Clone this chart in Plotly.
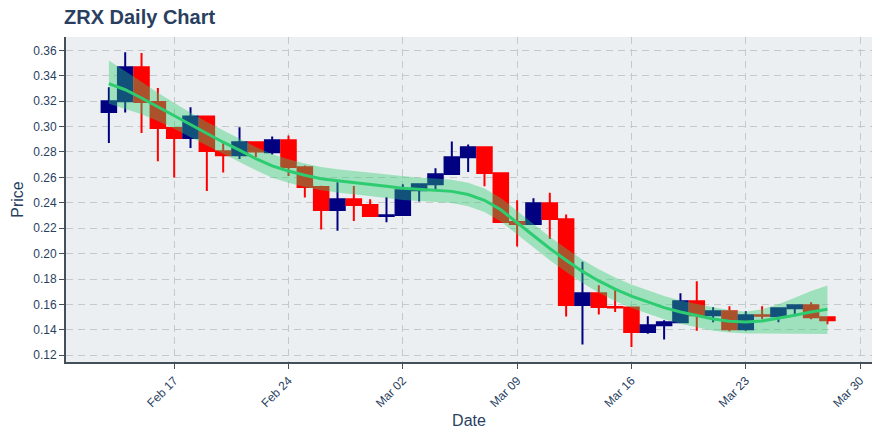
import plotly.graph_objects as go

dates = [
    "2020-02-13", "2020-02-14", "2020-02-15", "2020-02-16", "2020-02-17", "2020-02-18",
    "2020-02-19", "2020-02-20", "2020-02-21", "2020-02-22", "2020-02-23", "2020-02-24",
    "2020-02-25", "2020-02-26", "2020-02-27", "2020-02-28", "2020-02-29", "2020-03-01",
    "2020-03-02", "2020-03-03", "2020-03-04", "2020-03-05", "2020-03-06", "2020-03-07",
    "2020-03-08", "2020-03-09", "2020-03-10", "2020-03-11", "2020-03-12", "2020-03-13",
    "2020-03-14", "2020-03-15", "2020-03-16", "2020-03-17", "2020-03-18", "2020-03-19",
    "2020-03-20", "2020-03-21", "2020-03-22", "2020-03-23", "2020-03-24", "2020-03-25",
    "2020-03-26", "2020-03-27", "2020-03-28",
]

open_ = [
    0.3115, 0.3200, 0.3466, 0.3193, 0.2989, 0.2910, 0.3080, 0.2806, 0.2775, 0.2876,
    0.2797, 0.2892, 0.2680, 0.2525, 0.2344, 0.2428, 0.2383, 0.2296, 0.2304, 0.2498,
    0.2546, 0.2627, 0.2758, 0.2837, 0.2632, 0.2249, 0.2233, 0.2396, 0.2270, 0.1596,
    0.1688, 0.1580, 0.1576, 0.1384, 0.1436, 0.1460, 0.1625, 0.1515, 0.1547, 0.1405,
    0.1515, 0.1507, 0.1570, 0.1594, 0.1499,
]
high = [
    0.3310, 0.3585, 0.3580, 0.3303, 0.2995, 0.3152, 0.3085, 0.2887, 0.2994, 0.2880,
    0.2921, 0.2929, 0.2694, 0.2535, 0.2561, 0.2532, 0.2428, 0.2443, 0.2546, 0.2550,
    0.2672, 0.2882, 0.2858, 0.2845, 0.2635, 0.2420, 0.2436, 0.2480, 0.2307, 0.1937,
    0.1751, 0.1720, 0.1580, 0.1507, 0.1476, 0.1688, 0.1783, 0.1578, 0.1586, 0.1547,
    0.1586, 0.1570, 0.1594, 0.1617, 0.1500,
]
low = [
    0.2870, 0.3110, 0.2950, 0.2727, 0.2600, 0.2831, 0.2493, 0.2638, 0.2745, 0.2760,
    0.2780, 0.2611, 0.2441, 0.2189, 0.2181, 0.2257, 0.2290, 0.2247, 0.2300, 0.2410,
    0.2493, 0.2625, 0.2643, 0.2530, 0.2245, 0.2056, 0.2228, 0.2116, 0.1505, 0.1284,
    0.1520, 0.1541, 0.1266, 0.1370, 0.1324, 0.1458, 0.1392, 0.1460, 0.1390, 0.1392,
    0.1484, 0.1460, 0.1507, 0.1484, 0.1444,
]
close = [
    0.3200, 0.3466, 0.3193, 0.2989, 0.2910, 0.3080, 0.2808, 0.2775, 0.2876, 0.2803,
    0.2892, 0.2682, 0.2525, 0.2344, 0.2428, 0.2383, 0.2296, 0.2303, 0.2498, 0.2546,
    0.2624, 0.2758, 0.2837, 0.2635, 0.2249, 0.2233, 0.2396, 0.2273, 0.1596, 0.1688,
    0.1580, 0.1576, 0.1384, 0.1436, 0.1460, 0.1625, 0.1515, 0.1547, 0.1405, 0.1515,
    0.1511, 0.1570, 0.1594, 0.1499, 0.1476,
]

trend = [
    0.3338, 0.3290, 0.3225, 0.3155, 0.3085, 0.3012, 0.2943, 0.2877, 0.2815, 0.2748,
    0.2690, 0.2650, 0.2617, 0.2590, 0.2573, 0.2560, 0.2545, 0.2530, 0.2515, 0.2505,
    0.2500, 0.2490, 0.2465, 0.2420, 0.2345, 0.2245, 0.2140, 0.2040, 0.1948, 0.1860,
    0.1785, 0.1720, 0.1665, 0.1618, 0.1575, 0.1540, 0.1510, 0.1485, 0.1468, 0.1462,
    0.1470, 0.1490, 0.1515, 0.1540, 0.1562,
]
trend_upper = [
    0.3521, 0.3440, 0.3353, 0.3267, 0.3187, 0.3108, 0.3036, 0.2969, 0.2907, 0.2840,
    0.2782, 0.2742, 0.2709, 0.2682, 0.2665, 0.2652, 0.2637, 0.2622, 0.2607, 0.2597,
    0.2592, 0.2582, 0.2557, 0.2512, 0.2437, 0.2337, 0.2232, 0.2132, 0.2040, 0.1952,
    0.1877, 0.1812, 0.1757, 0.1710, 0.1667, 0.1632, 0.1602, 0.1577, 0.1556, 0.1542,
    0.1562, 0.1602, 0.1652, 0.1705, 0.1750,
]
trend_lower = [
    0.3180, 0.3140, 0.3097, 0.3043, 0.2983, 0.2916, 0.2850, 0.2785, 0.2723, 0.2656,
    0.2598, 0.2558, 0.2525, 0.2498, 0.2481, 0.2468, 0.2453, 0.2438, 0.2423, 0.2413,
    0.2408, 0.2398, 0.2373, 0.2328, 0.2253, 0.2153, 0.2048, 0.1948, 0.1856, 0.1768,
    0.1693, 0.1628, 0.1573, 0.1526, 0.1483, 0.1448, 0.1418, 0.1393, 0.1380, 0.1371,
    0.1371, 0.1371, 0.1371, 0.1370, 0.1368,
]

title_text = "ZRX Daily Chart"
FONT = "Arial, Liberation Sans, sans-serif"
TXT = "#2a3f5f"
AXIS = "#444f5a"
GRID = "#c6c9cb"

fig = go.Figure()
fig.add_trace(go.Candlestick(
    x=dates, open=open_, high=high, low=low, close=close,
    increasing=dict(line=dict(color="#000080", width=2), fillcolor="#000080"),
    decreasing=dict(line=dict(color="#ff0000", width=2), fillcolor="#ff0000"),
    showlegend=False,
))
fig.add_trace(go.Scatter(
    x=dates, y=trend_upper, mode="lines", line=dict(width=0),
    hoverinfo="skip", showlegend=False,
))
fig.add_trace(go.Scatter(
    x=dates, y=trend_lower, mode="lines", line=dict(width=0),
    fill="tonexty", fillcolor="rgba(46,204,113,0.4)",
    hoverinfo="skip", showlegend=False,
))
fig.add_trace(go.Scatter(
    x=dates, y=trend, mode="lines", line=dict(color="rgb(46,204,113)", width=3),
    showlegend=False,
))

fig.update_layout(
    width=880, height=440,
    margin=dict(l=66, r=8, t=37, b=78, autoexpand=False),
    paper_bgcolor="white", plot_bgcolor="#eceff1",
    font=dict(family=FONT, size=12, color=TXT),
    title=dict(text=title_text, x=64 / 880, xref="container", xanchor="left",
               y=1 - 17 / 440, yref="container", yanchor="middle", automargin=False,
               font=dict(family=FONT, size=20, color=TXT, weight="bold")),
    showlegend=False,
    boxgap=0.11, boxgroupgap=0,
)
fig.update_xaxes(
    range=["2020-02-10 09:00", "2020-03-30 17:30"],
    tick0="2020-02-17", dtick=7 * 24 * 3600 * 1000, tickformat="%b %d", tickangle=-45,
    rangeslider=dict(visible=False), automargin=False,
    showline=True, linecolor=AXIS, linewidth=2, ticks="outside", ticklen=5, tickcolor=AXIS,
    showgrid=True, gridcolor=GRID, gridwidth=1, griddash="7px,5px", zeroline=False,
    title=dict(text="Date", font=dict(size=16), standoff=6),
)
fig.update_yaxes(
    range=[0.1147, 0.3705], dtick=0.02, tickformat=".2f", automargin=False,
    showline=True, linecolor=AXIS, linewidth=2, ticks="outside", ticklen=5, tickcolor=AXIS,
    showgrid=True, gridcolor=GRID, gridwidth=1, griddash="7px,5px", zeroline=False,
    title=dict(text="Price", font=dict(size=16), standoff=6),
)

# remove the default 8px page margin so the 880x440 figure fills the window exactly
fig.write_html("out.html", config={"displayModeBar": False},
               post_script="document.body.style.margin='0px';")
